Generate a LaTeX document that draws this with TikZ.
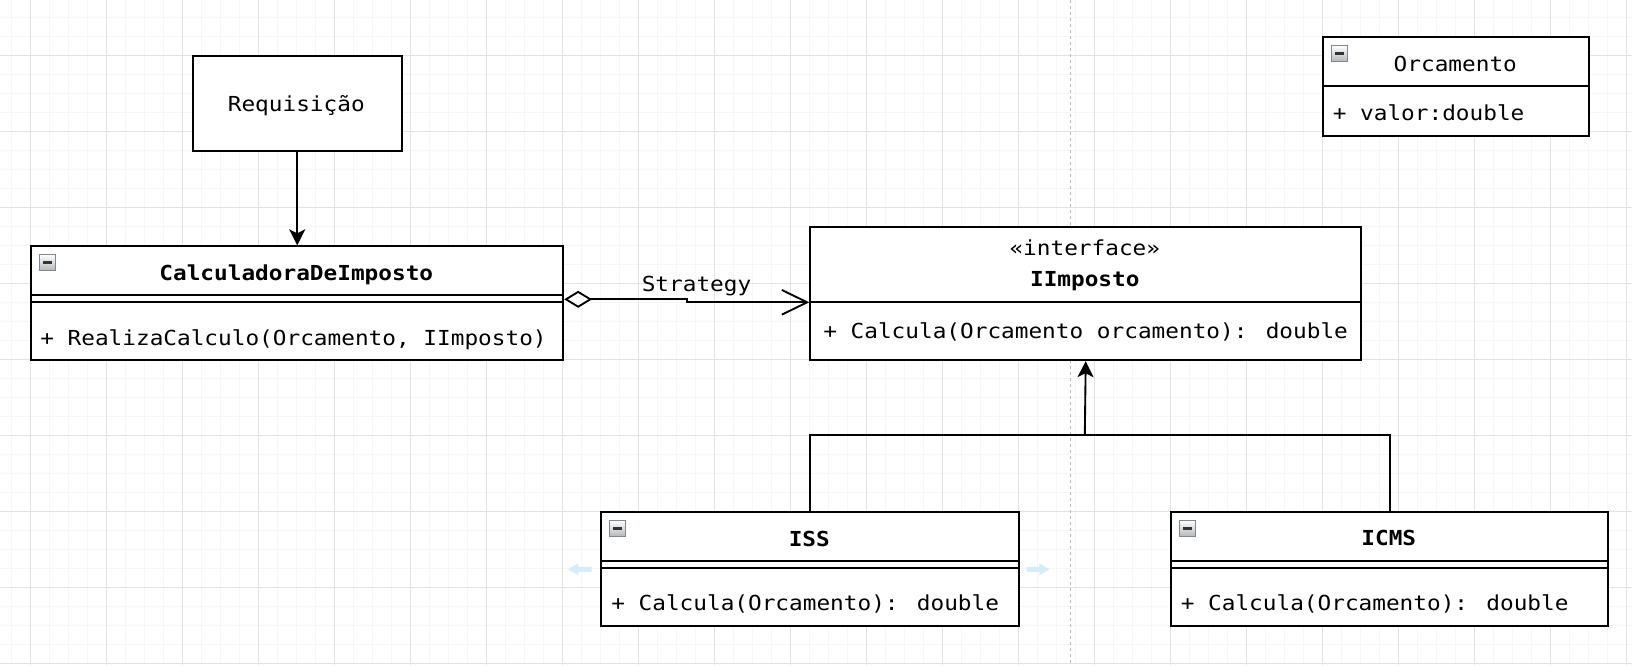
\documentclass[tikz,border=0pt]{standalone}
\usepackage{fontspec}
\setmainfont{DejaVu Sans Mono}[FakeStretch=1.1]
\usetikzlibrary{arrows.meta,calc}
\definecolor{gridmaj}{RGB}{226,226,226}
\definecolor{gridmin}{RGB}{246,246,246}
\definecolor{pagebrk}{RGB}{185,185,185}
\definecolor{hoverblue}{RGB}{214,236,249}
\definecolor{iconborder}{RGB}{125,135,150}
\tikzset{
  umlbox/.style 2 args={draw=black, line width=1.4pt, fill=white, inner sep=0pt,
    minimum width=#1*0.75pt, minimum height=#2*0.75pt, anchor=north west},
  txt/.style={inner sep=0pt, font=\fontsize{15.5pt}{18pt}\selectfont},
  ttl/.style={txt, anchor=base},
  btl/.style={txt, anchor=base, font=\fontsize{15.5pt}{18pt}\selectfont\bfseries},
  mem/.style={txt, anchor=base west},
  conn/.style={line width=1.4pt, draw=black},
  arr/.style={conn, -{Stealth[length=12pt,width=12pt,inset=3pt]}},
  gridminor/.style={gridmin, line width=0.75pt},
  gridmajor/.style={gridmaj, line width=0.75pt},
}
\newcommand\umlminus[1]{%
  \draw[iconborder, line width=0.75pt, top color=white, bottom color=black!28]
    ($(#1.north west)+(9,9)$) rectangle ++(16,16);
  \fill[black!80] ($(#1.north west)+(12.5,16)$) rectangle ++(9,2.4);}
\begin{document}
\begin{tikzpicture}[x=0.75pt,y=-0.75pt]
\useasboundingbox (0,0) rectangle (1632,665);
\fill[white] (0,0) rectangle (1632,665);
% grid
\foreach \i in {0,...,85} \draw[gridminor] ({11.3+19*\i},0) -- ({11.3+19*\i},665);
\foreach \j in {0,...,34} \draw[gridminor] (0,{17.3+19*\j}) -- (1632,{17.3+19*\j});
\foreach \i in {0,...,21} \draw[gridmajor] ({30.3+76*\i},0) -- ({30.3+76*\i},665);
\foreach \j in {0,...,8} \draw[gridmajor] (0,{55.3+76*\j}) -- (1632,{55.3+76*\j});
\draw[pagebrk, line width=0.75pt, dash pattern=on 2.25pt off 2.25pt] (1070.7,0) -- (1070.7,665);

% boxes
\node[umlbox={209}{95}] (req) at (191.8,55.3) {};
\node[umlbox={532}{114}] (calc) at (30.3,245.3) {};
\node[umlbox={551}{133}] (ii) at (809.3,226.3) {};
\node[umlbox={266}{98.8}] (orc) at (1322.3,36.3) {};
\node[umlbox={418}{114}] (iss) at (600.3,511.3) {};
\node[umlbox={437}{114}] (icms) at (1170.3,511.3) {};

% dividers
\draw[conn] ($(calc.north west)+(0,49.4)$) -- ($(calc.north east)+(0,49.4)$);
\draw[conn] ($(calc.north west)+(0,57)$) -- ($(calc.north east)+(0,57)$);
\draw[conn] ($(ii.north west)+(0,76)$) -- ($(ii.north east)+(0,76)$);
\draw[conn] ($(orc.north west)+(0,49.4)$) -- ($(orc.north east)+(0,49.4)$);
\draw[conn] ($(iss.north west)+(0,49.4)$) -- ($(iss.north east)+(0,49.4)$);
\draw[conn] ($(iss.north west)+(0,57)$) -- ($(iss.north east)+(0,57)$);
\draw[conn] ($(icms.north west)+(0,49.4)$) -- ($(icms.north east)+(0,49.4)$);
\draw[conn] ($(icms.north west)+(0,57)$) -- ($(icms.north east)+(0,57)$);

% icons
\umlminus{calc}
\umlminus{orc}
\umlminus{iss}
\umlminus{icms}

% texts
\node[ttl] (reqt) at (296.3,111) {Requisição};
\node[btl] (calct) at (296.3,280) {CalculadoraDeImposto};
\node[mem] (calcm) at (40,345) {+ RealizaCalculo(Orcamento, IImposto)};
\node[ttl] (iist) at (1084.8,255) {«interface»};
\node[btl] (iit) at (1084.8,286) {IImposto};
\node[mem] (iim) at (823,338.3) {+ Calcula(Orcamento orcamento): double};
\node[ttl] (orct) at (1455.3,71) {Orcamento};
\node[mem] (orcm) at (1332.5,120) {+ valor:double};
\node[btl] (isst) at (809.3,546) {ISS};
\node[mem] (issm) at (611,610.5) {+ Calcula(Orcamento): double};
\node[btl] (icmst) at (1388.8,545.5) {ICMS};
\node[mem] (icmsm) at (1180.5,610.5) {+ Calcula(Orcamento): double};

% connectors
\draw[arr] (req.south) -- (calc.north);
\draw[conn, {Diamond[open,length=21pt,width=12.75pt]}-{Straight Barb[length=19pt,width=18.5pt]}]
  ($(calc.north east)+(0,54)$) -- ++(123.1,0) -- ++(0,3) -- ($(ii.north west)+(0,76)$);
\node[mem] (strat) at (641.5,291.7) {Strategy};
\coordinate (gj) at (1084.8,435.3);
\draw[conn] (iss.north) |- (gj);
\draw[conn] (icms.north) |- (gj);
\draw[arr] (gj) -- (ii.south);

% hover arrows
\fill[hoverblue] (568.3,569.3) -- (578.3,563.3) -- (578.3,566.8) -- (591.7,566.8)
  -- (591.7,571.8) -- (578.3,571.8) -- (578.3,575.3) -- cycle;
\fill[hoverblue] (1049.3,569.3) -- (1039.3,563.3) -- (1039.3,566.8) -- (1026.7,566.8)
  -- (1026.7,571.8) -- (1039.3,571.8) -- (1039.3,575.3) -- cycle;
\end{tikzpicture}
\end{document}
